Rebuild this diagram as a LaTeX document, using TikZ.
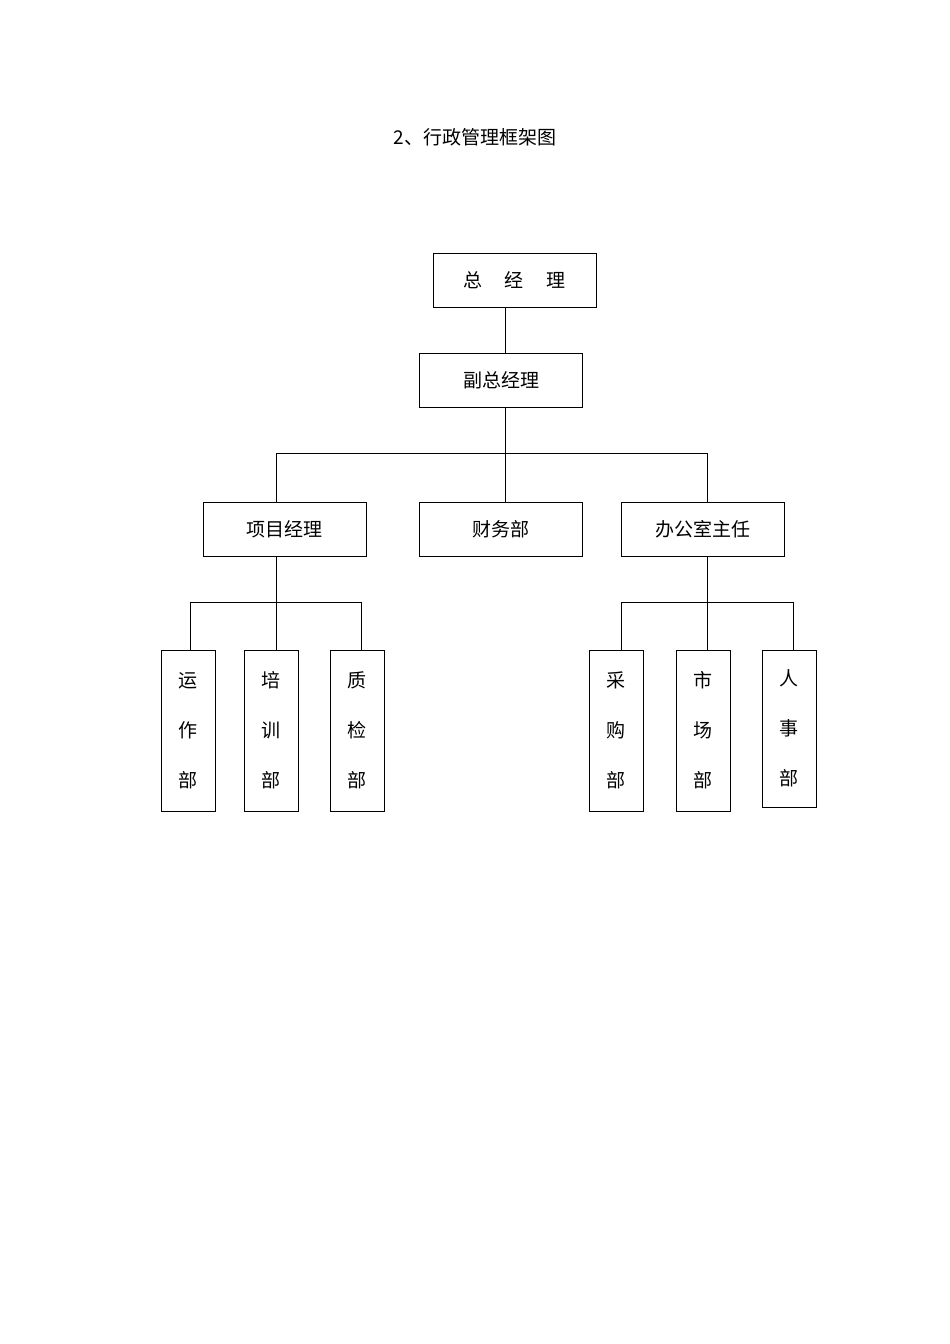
\documentclass[tikz,border=0pt]{standalone}
\usepackage{fontspec}
\newfontfamily\cjk{Noto Sans CJK SC}
\begin{document}
\begin{tikzpicture}[x=1pt,y=-1pt,
  bx/.style={draw,line width=0.9pt,minimum width=163pt,minimum height=54pt,inner sep=0pt,font=\cjk\fontsize{19}{20}\selectfont},
  vb/.style={draw,line width=0.9pt,minimum width=54pt,minimum height=161pt,inner sep=0pt,align=center,font=\cjk\fontsize{19}{50}\selectfont},
  ln/.style={line width=0.9pt}]
\useasboundingbox (0,0) rectangle (950,1344);
\node[font=\cjk\fontsize{19}{20}\selectfont] (title) at (475,137) {2、行政管理框架图};
\node[bx] (gm) at (514.5,280.5) {总\hspace{1.2em}经\hspace{1.2em}理};
\node[bx] (vgm) at (501,380) {副总经理};
\node[bx] (pm) at (284.5,529) {项目经理};
\node[bx] (fin) at (501,529) {财务部};
\node[bx] (off) at (702.5,529) {办公室主任};
\node[vb] (a1) at (188,730.5) {运\\作\\部};
\node[vb] (a2) at (271,730.5) {培\\训\\部};
\node[vb] (a3) at (357,730.5) {质\\检\\部};
\node[vb] (b1) at (616,730.5) {采\\购\\部};
\node[vb] (b2) at (703,730.5) {市\\场\\部};
\node[vb,minimum height=157pt] (b3) at (789,728.5) {人\\事\\部};
\coordinate (j1) at (505,453);
\coordinate (j2) at (276,602);
\coordinate (j3) at (707,602);
\draw[ln] (505,307) -- (505,353);
\draw[ln] (505,407) -- (fin.north -| 505,0);
\draw[ln] (j1) -- (276,453) -- (pm.north -| 276,0);
\draw[ln] (j1) -- (707,453) -- (off.north -| 707,0);
\draw[ln] (pm.south -| 276,0) -- (j2);
\draw[ln] (off.south -| 707,0) -- (j3);
\draw[ln] (a1.north -| 190,0) -- (190,602) -- (361,602) -- (a3.north -| 361,0);
\draw[ln] (j2) -- (a2.north -| 276,0);
\draw[ln] (b1.north -| 621,0) -- (621,602) -- (793,602) -- (b3.north -| 793,0);
\draw[ln] (j3) -- (b2.north -| 707,0);
\end{tikzpicture}
\end{document}
